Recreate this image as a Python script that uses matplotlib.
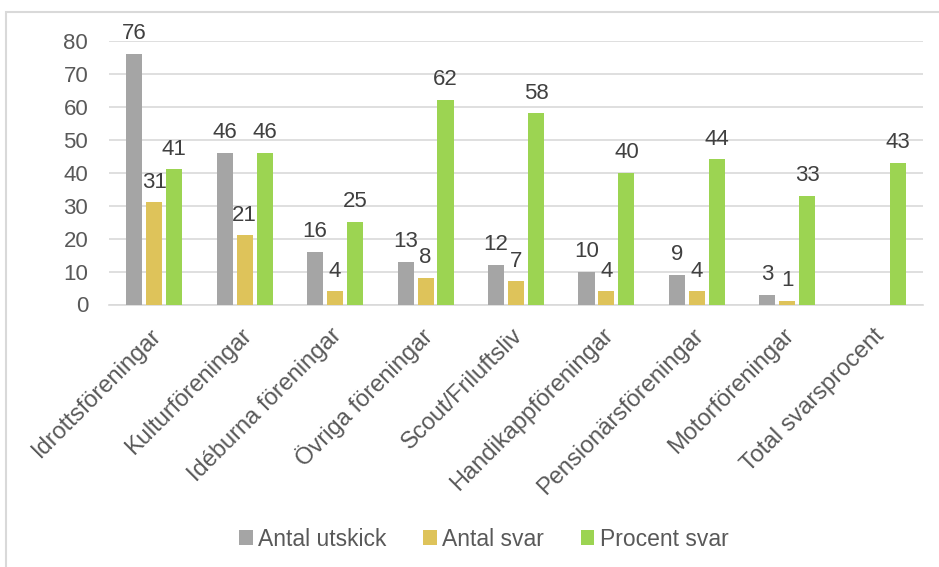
import matplotlib.pyplot as plt
from matplotlib.patches import Patch, Rectangle
import matplotlib.transforms as mtransforms
import numpy as np

plt.rcParams['font.family'] = ['Liberation Sans', 'DejaVu Sans']

# Data
categories = ["Idrottsföreningar", "Kulturföreningar", "Idéburna föreningar",
              "Övriga föreningar", "Scout/Friluftsliv", "Handikappföreningar",
              "Pensionärsföreningar", "Motorföreningar", "Total svarsprocent"]
antal_utskick = [76, 46, 16, 13, 12, 10, 9, 3, None]
antal_svar = [31, 21, 4, 8, 7, 4, 4, 1, None]
procent_svar = [41, 46, 25, 62, 58, 40, 44, 33, 43]

series_names = ["Antal utskick", "Antal svar", "Procent svar"]
colors = ["#A5A5A5", "#DEC35A", "#9CD452"]
text_color = "#595959"
grid_color = "#D9D9D9"

W, H = 939, 567
fig = plt.figure(figsize=(W / 100, H / 100), dpi=100)
ax = fig.add_axes([109 / W, (H - 304.5) / H, (923 - 109) / W, (304.5 - 40.7) / H])

x = np.arange(len(categories))
width = 0.178
offset = 0.221

for k, vals in enumerate([antal_utskick, antal_svar, procent_svar]):
    xs = [xi + (k - 1) * offset for xi, v in zip(x, vals) if v is not None]
    ys = [v for v in vals if v is not None]
    bars = ax.bar(xs, ys, width=width, color=colors[k], zorder=3)
    for b, v in zip(bars, ys):
        ax.annotate(str(v), xy=(b.get_x() + b.get_width() / 2, v),
                    xytext=(0, 7), textcoords="offset points",
                    ha="center", va="bottom", fontsize=16,
                    color="#404040", annotation_clip=False)

ax.set_xlim(-0.5, len(categories) - 0.5)
ax.set_ylim(0, 80)
ax.set_yticks(range(0, 81, 10))
ax.tick_params(axis="y", length=0, pad=15, labelsize=16, labelcolor=text_color)
ax.set_xticks(x)
ax.set_xticklabels([])
ax.tick_params(axis="x", length=0)
ax.grid(axis="y", color=grid_color, linewidth=1.2, zorder=0)
for side in ["top", "right", "left"]:
    ax.spines[side].set_visible(False)
ax.spines["bottom"].set_color(grid_color)
ax.spines["bottom"].set_linewidth(1.2)

# Rotated category labels
for xi, name in zip(x, categories):
    trans = ax.get_xaxis_transform() + mtransforms.ScaledTranslation(
        2.5 / 72, -20 / 72, fig.dpi_scale_trans)
    ax.text(xi, 0, name, transform=trans, rotation=45, rotation_mode="anchor",
            ha="right", va="center", fontsize=17, color=text_color)

# Legend
handles = [Patch(facecolor=c, edgecolor="none") for c in colors]
fig.legend(handles, series_names, loc="center", bbox_to_anchor=(484 / W, 1 - 539 / H),
           ncol=3, frameon=False, fontsize=16.5, labelcolor=text_color,
           handlelength=0.58, handleheight=0.58, handletextpad=0.25,
           columnspacing=1.6)

# Chart frame
fig.add_artist(Rectangle((6 / W, -0.1), 2, 1.1 - 12 / H, transform=fig.transFigure,
                         fill=False, edgecolor=grid_color, linewidth=1.5))

fig.savefig("out.png", dpi=100)
